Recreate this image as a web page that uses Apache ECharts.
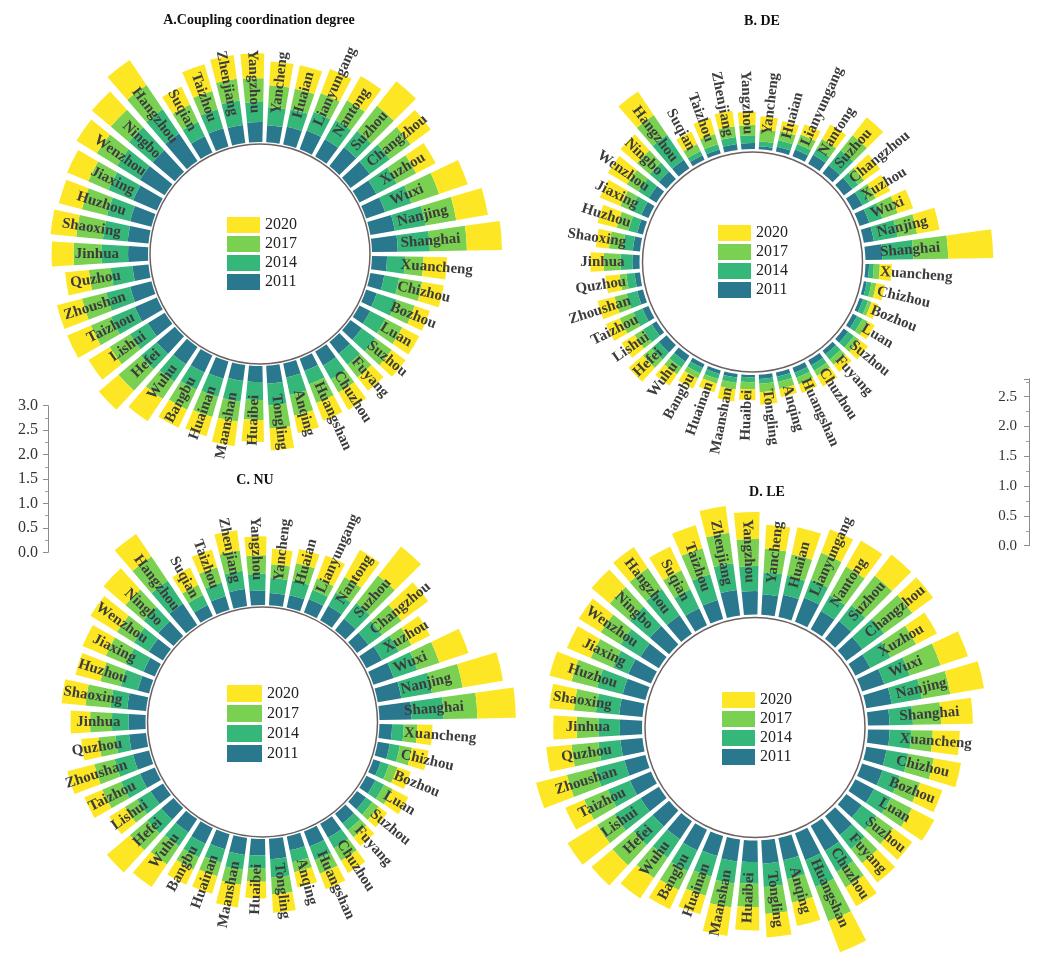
<!DOCTYPE html>
<html><head><meta charset="utf-8">
<script src="https://cdn.jsdelivr.net/npm/echarts@6/dist/echarts.min.js"></script>
<style>html,body{margin:0;padding:0;background:#fff}#c{width:1037px;height:954px}</style>
</head><body><div id="c"></div>
<script>
const cities = ['Shanghai','Nanjing','Wuxi','Xuzhou','Changzhou','Suzhou','Nantong','Lianyungang','Huaian','Yancheng',
 'Yangzhou','Zhenjiang','Taizhou','Suqian','Hangzhou','Ningbo','Wenzhou','Jiaxing','Huzhou','Shaoxing',
 'Jinhua','Quzhou','Zhoushan','Taizhou','Lishui','Hefei','Wuhu','Bangbu','Huainan','Maanshan',
 'Huaibei','Tongling','Anqing','Huangshan','Chuzhou','Fuyang','Suzhou','Luan','Bozhou','Chizhou','Xuancheng'];
const years = ['2011','2014','2017','2020'];
const legendOrder = ['2020','2017','2014','2011'];
const scaleTicksLeft = [0, 3];
const scaleTicksRight = [0, 2.8];

// A. Coupling coordination degree
const ccd2011 = [.53,.51,.41,.39,.49,.49,.41,.41,.37,.35, .41,.37,.39,.37,.68,.60,.60,.53,.45,.43, .41,.33,.45,.49,.41,.49,.43,.39,.37,.33, .33,.37,.29,.27,.33,.31,.29,.25,.23,.29,.31];
const ccd2014 = [.66,.64,.57,.47,.51,.43,.45,.41,.37,.37, .41,.51,.41,.33,.60,.64,.55,.55,.49,.51, .55,.45,.51,.53,.43,.43,.43,.39,.39,.43, .37,.45,.37,.29,.33,.29,.35,.35,.43,.31,.37];
const ccd2017 = [.76,.64,.60,.45,.53,.66,.47,.41,.43,.45, .49,.45,.39,.39,.60,.49,.49,.45,.53,.55, .57,.45,.51,.45,.49,.60,.43,.45,.43,.41, .41,.47,.43,.41,.31,.33,.41,.39,.39,.48,.38];
const ccd2020 = [.72,.66,.62,.45,.51,.64,.57,.53,.49,.49, .51,.49,.57,.41,.62,.51,.49,.47,.49,.53, .45,.49,.53,.53,.51,.53,.55,.41,.41,.51, .45,.45,.37,.39,.41,.35,.35,.39,.33,.45,.48];
// B. DE
const de2011 = [.28,.17,.17,.18,.18,.17,.17,.12,.08,.05, .10,.10,.07,.08,.17,.17,.15,.13,.10,.12, .12,.09,.10,.11,.09,.17,.12,.07,.06,.06, .04,.07,.07,.09,.10,.08,.09,.08,.06,.05,.06];
const de2014 = [.52,.40,.23,.13,.12,.32,.12,.10,.11,.08, .13,.12,.09,.08,.50,.20,.20,.19,.15,.17, .20,.14,.18,.16,.17,.16,.12,.10,.09,.09, .08,.08,.09,.09,.10,.11,.12,.10,.09,.08,.08];
const de2017 = [.58,.33,.27,.12,.12,.32,.18,.17,.16,.20, .17,.18,.18,.13,.40,.28,.23,.19,.20,.23, .28,.11,.21,.25,.17,.19,.13,.09,.08,.11, .12,.14,.12,.12,.10,.11,.11,.10,.06,.08,.10];
const de2020 = [.75,.38,.27,.27,.33,.38,.28,.18,.17,.22, .22,.26,.28,.23,.47,.36,.37,.37,.33,.22, .22,.24,.29,.25,.25,.31,.23,.19,.15,.20, .18,.21,.14,.15,.20,.15,.18,.13,.12,.15,.20];
// C. NU
const nu2011 = [.66,.49,.44,.36,.29,.30,.34,.29,.26,.25, .30,.35,.29,.25,.53,.41,.34,.25,.24,.39, .35,.35,.34,.33,.30,.33,.33,.36,.32,.35, .34,.42,.29,.33,.33,.25,.23,.21,.16,.25,.26];
const nu2014 = [.66,.64,.51,.39,.35,.41,.31,.21,.31,.31, .34,.38,.29,.23,.56,.40,.36,.39,.36,.34, .34,.28,.39,.42,.33,.38,.34,.31,.29,.31, .27,.38,.25,.30,.25,.18,.16,.20,.18,.21,.24];
const nu2017 = [.69,.64,.48,.29,.49,.72,.37,.25,.36,.28, .38,.42,.33,.23,.60,.49,.41,.45,.43,.52, .45,.35,.43,.42,.29,.47,.45,.27,.29,.31, .27,.34,.21,.30,.29,.18,.16,.20,.18,.25,.28];
const nu2020 = [.79,.84,.63,.43,.68,.76,.64,.51,.30,.32, .39,.42,.38,.39,.56,.59,.64,.52,.53,.49, .40,.36,.57,.40,.38,.62,.56,.35,.37,.47, .34,.38,.32,.34,.29,.23,.22,.36,.29,.35,.31];
// D. LE
const le2011 = [.36,.43,.39,.28,.33,.38,.35,.43,.38,.34, .39,.43,.33,.31,.37,.42,.36,.41,.39,.39, .37,.37,.36,.38,.36,.36,.36,.38,.35,.37, .36,.39,.38,.48,.48,.40,.32,.35,.36,.34,.36];
const le2014 = [.39,.51,.45,.38,.45,.33,.30,.32,.32,.37, .42,.45,.45,.35,.53,.44,.39,.28,.44,.39, .36,.37,.50,.40,.51,.42,.37,.38,.36,.37, .36,.39,.32,.48,.40,.30,.30,.32,.30,.37,.36];
const le2017 = [.47,.48,.54,.48,.58,.63,.55,.48,.37,.39, .45,.51,.45,.35,.42,.44,.39,.40,.44,.37, .36,.45,.49,.43,.34,.46,.41,.35,.33,.40, .39,.45,.40,.61,.30,.30,.35,.39,.36,.43,.36];
const le2020 = [.53,.57,.48,.39,.43,.45,.50,.42,.46,.40, .45,.45,.40,.44,.42,.40,.43,.43,.38,.41, .39,.42,.53,.34,.58,.46,.41,.35,.32,.48, .39,.39,.40,.55,.36,.41,.39,.42,.39,.46,.45];

const seriesData = [
  [ccd2011, ccd2014, ccd2017, ccd2020],
  [de2011, de2014, de2017, de2020],
  [nu2011, nu2014, nu2017, nu2020],
  [le2011, le2014, le2017, le2020]
];
const titles = ['A.Coupling coordination degree', 'B. DE', 'C. NU', 'D. LE'];

// layout (pixels)
const layout = [
  {tx:259, ty:13, cx:260, cy:254, r0:112, scale:48.7, max:3.2, circle:110, labelR:141, lg:{left:227, top:217, w:33, h:16, gap:3}},
  {tx:762, ty:14, cx:752.5, cy:262, r0:113, scale:60, max:3.0, circle:110, labelR:128, lg:{left:718, top:225, w:33, h:16, gap:3}},
  {tx:255, ty:473, cx:262.5, cy:722, r0:117, scale:48.7, max:3.2, circle:115, labelR:142, lg:{left:227, top:685, w:35, h:17, gap:3}},
  {tx:767, ty:485, cx:755, cy:727.5, r0:113, scale:60, max:3.0, circle:110, labelR:145, lg:{left:722, top:692, w:33, h:16, gap:3}}
];
const colors = ['#2A788E', '#35B779', '#7AD151', '#FDE725'];
const serif = 'Liberation Serif';

const polar = [], angleAxis = [], radiusAxis = [], series = [], legend = [], title = [];
layout.forEach((L, i) => {
  polar.push({center: [L.cx, L.cy], radius: [L.r0, L.r0 + L.max * L.scale]});
  angleAxis.push({polarIndex: i, type: 'category', data: cities, startAngle: 0, clockwise: false, boundaryGap: true,
    axisLine: {show: false}, axisTick: {show: false}, axisLabel: {show: false}, splitLine: {show: false}});
  radiusAxis.push({polarIndex: i, type: 'value', min: 0, max: L.max,
    axisLine: {show: false}, axisTick: {show: false}, axisLabel: {show: false}, splitLine: {show: false}});
  years.forEach((y, j) => {
    series.push({type: 'bar', name: y, coordinateSystem: 'polar', polarIndex: i, stack: 'st' + i,
      data: seriesData[i][j], barCategoryGap: '22%', itemStyle: {color: colors[j]}, silent: true, z: 2});
  });
  series.push({
    type: 'custom', coordinateSystem: 'polar', polarIndex: i, silent: true, z: 5,
    data: cities.map((c, k) => [0, k]),
    renderItem: function (params, api) {
      const k = api.value(1);
      const p = api.coord([0, k]);
      const cs = params.coordSys;
      const th = Math.atan2(cs.cy - p[1], p[0] - cs.cx);
      const right = Math.cos(th) >= 0;
      const R = L.labelR;
      const al = right ? 'left' : 'right';
      return {
        type: 'text',
        x: cs.cx + R * Math.cos(th), y: cs.cy - R * Math.sin(th),
        rotation: right ? th : th - Math.PI,
        style: {text: cities[params.dataIndex], font: 'bold 15px "' + serif + '"', fill: '#3c3c3c',
          align: al, textAlign: al, verticalAlign: 'middle', textVerticalAlign: 'middle'}
      };
    }
  });
  legend.push({orient: 'vertical', left: L.lg.left, top: L.lg.top, itemWidth: L.lg.w, itemHeight: L.lg.h,
    itemGap: L.lg.gap, padding: 0, icon: 'rect', selectedMode: false, data: legendOrder,
    textStyle: {fontFamily: serif, fontSize: 16, color: '#222'}});
  title.push({text: titles[i], left: L.tx, top: L.ty, textAlign: 'center', padding: 0,
    textStyle: {fontFamily: serif, fontWeight: 'bold', fontSize: 14, color: '#111'}});
});
// inner circles
layout.forEach((L, i) => {
  polar.push({center: [L.cx, L.cy], radius: L.circle});
  angleAxis.push({polarIndex: 4 + i, type: 'value', min: 0, max: 360, startAngle: 0,
    axisLine: {show: true, lineStyle: {color: '#6e6060', width: 1.5}}, axisTick: {show: false},
    axisLabel: {show: false}, splitLine: {show: false}});
  radiusAxis.push({polarIndex: 4 + i, type: 'value', min: 0, max: 1,
    axisLine: {show: false}, axisTick: {show: false}, axisLabel: {show: false}, splitLine: {show: false}});
});

function scaleAxis(gi, ext, fs, margin, hideMax) {
  return {gridIndex: gi, type: 'value', min: ext[0], max: ext[1], interval: 0.5, position: 'left',
    axisLine: {show: true, lineStyle: {color: '#8c8c8c', width: 1}},
    axisTick: {show: true, length: 5, lineStyle: {color: '#8c8c8c'}},
    minorTick: {show: true, splitNumber: 2, length: 3, lineStyle: {color: '#a0a0a0'}},
    axisLabel: {margin: margin, fontFamily: serif, fontSize: fs, color: '#333', showMaxLabel: !hideMax,
      formatter: v => v.toFixed(1)},
    splitLine: {show: false}};
}

const option = {
  animation: false,
  backgroundColor: '#fff',
  title: title,
  legend: legend,
  polar: polar,
  angleAxis: angleAxis,
  radiusAxis: radiusAxis,
  grid: [
    {left: 48, top: 405.7, width: 10, height: 146.6},
    {left: 1029, top: 378.8, width: 5, height: 166.9}
  ],
  xAxis: [{gridIndex: 0, type: 'value', show: false}, {gridIndex: 1, type: 'value', show: false}],
  yAxis: [scaleAxis(0, scaleTicksLeft, 16, 10, false), scaleAxis(1, scaleTicksRight, 15, 12, true)],
  series: series
};
const chart = echarts.init(document.getElementById('c'), null, {renderer: 'canvas'});
chart.setOption(option);
</script></body></html>
